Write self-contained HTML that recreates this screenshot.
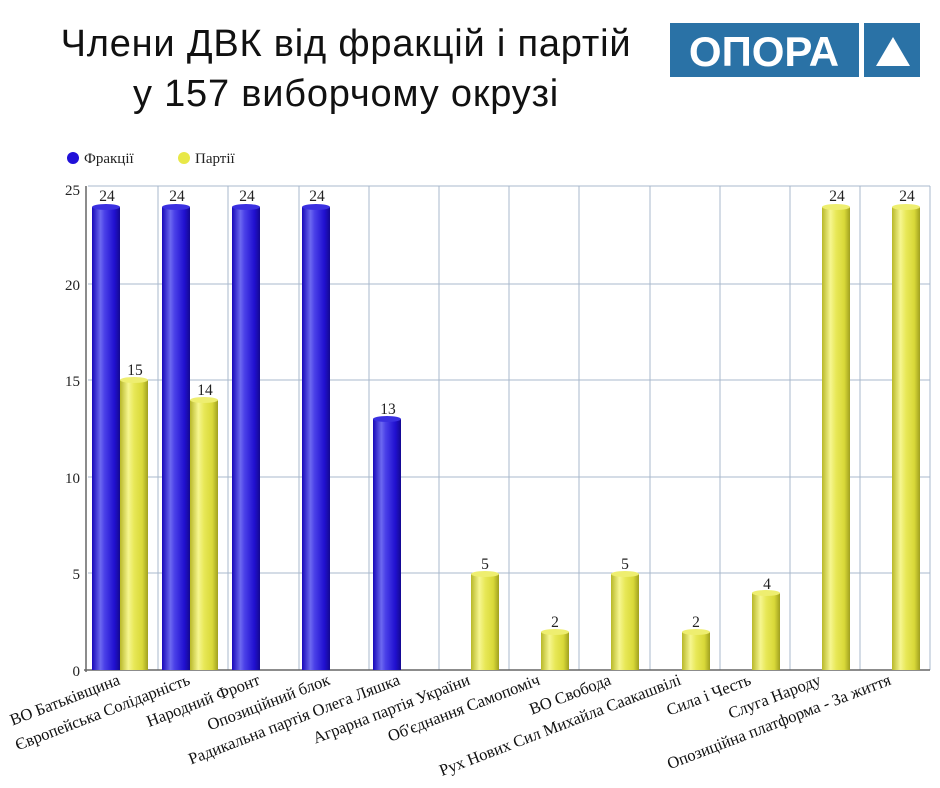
<!DOCTYPE html>
<html><head><meta charset="utf-8"><style>
body{margin:0;background:#fff;width:940px;height:788px;overflow:hidden}
svg{display:block}
</style></head><body>
<svg width="940" height="788" viewBox="0 0 940 788" xmlns="http://www.w3.org/2000/svg">
<defs>
<linearGradient id="gb" x1="0" x2="1" y1="0" y2="0">
<stop offset="0" stop-color="#1808b8"/><stop offset="0.3" stop-color="#6c68f0"/><stop offset="0.45" stop-color="#4a40e8"/><stop offset="0.8" stop-color="#2010d0"/><stop offset="1" stop-color="#140890"/>
</linearGradient>
<linearGradient id="gy" x1="0" x2="1" y1="0" y2="0">
<stop offset="0" stop-color="#b8b828"/><stop offset="0.3" stop-color="#f6f690"/><stop offset="0.5" stop-color="#e8e858"/><stop offset="0.8" stop-color="#d8d838"/><stop offset="1" stop-color="#a0a020"/>
</linearGradient>
</defs>
<text x="346" y="56" font-family="Liberation Sans, sans-serif" font-size="38" letter-spacing="0.8" text-anchor="middle" fill="#111">Члени ДВК  від фракцій і партій</text>
<text x="346" y="106" font-family="Liberation Sans, sans-serif" font-size="38" letter-spacing="0.8" text-anchor="middle" fill="#111">у 157 виборчому окрузі</text>
<rect x="670" y="23" width="189" height="54" fill="#2a72a6"/>
<text x="764" y="66" font-family="Liberation Sans, sans-serif" font-weight="bold" font-size="42" text-anchor="middle" fill="#fff">ОПОРА</text>
<rect x="864" y="23" width="56" height="54" fill="#2a72a6"/>
<polygon points="876,66 910,66 893,37" fill="#fff"/>
<circle cx="73" cy="158" r="6" fill="#2010d8"/>
<text x="84" y="163" font-family="Liberation Serif, serif" font-size="15" fill="#222">Фракції</text>
<circle cx="184" cy="158" r="6" fill="#e8e848"/>
<text x="195" y="163" font-family="Liberation Serif, serif" font-size="15" fill="#222">Партії</text>
<g stroke="#a8b8cc" stroke-width="1">
<line x1="88" y1="573" x2="930" y2="573"/><line x1="88" y1="477" x2="930" y2="477"/><line x1="88" y1="380" x2="930" y2="380"/><line x1="88" y1="284" x2="930" y2="284"/><line x1="88" y1="186" x2="930" y2="186"/>
<line x1="158" y1="186" x2="158" y2="670"/><line x1="228" y1="186" x2="228" y2="670"/><line x1="299" y1="186" x2="299" y2="670"/><line x1="369" y1="186" x2="369" y2="670"/><line x1="439" y1="186" x2="439" y2="670"/><line x1="509" y1="186" x2="509" y2="670"/><line x1="579" y1="186" x2="579" y2="670"/><line x1="650" y1="186" x2="650" y2="670"/><line x1="720" y1="186" x2="720" y2="670"/><line x1="790" y1="186" x2="790" y2="670"/><line x1="860" y1="186" x2="860" y2="670"/><line x1="930" y1="186" x2="930" y2="670"/>
</g>
<line x1="84" y1="670" x2="930" y2="670" stroke="#666" stroke-width="1.5"/>
<line x1="86" y1="186" x2="86" y2="672" stroke="#666" stroke-width="1.5"/>
<g font-family="Liberation Serif, serif" font-size="15" fill="#222" text-anchor="end">
<text x="80" y="676">0</text><text x="80" y="579">5</text><text x="80" y="483">10</text><text x="80" y="386">15</text><text x="80" y="290">20</text><text x="80" y="195">25</text>
</g>
<g>
<rect x="92" y="207" width="28" height="463" fill="url(#gb)"/><ellipse cx="106" cy="207" rx="14" ry="3" fill="#3a30e0"/>
<rect x="120" y="380" width="28" height="290" fill="url(#gy)"/><ellipse cx="134" cy="380" rx="14" ry="3" fill="#eeee70"/>
<rect x="162" y="207" width="28" height="463" fill="url(#gb)"/><ellipse cx="176" cy="207" rx="14" ry="3" fill="#3a30e0"/>
<rect x="190" y="400" width="28" height="270" fill="url(#gy)"/><ellipse cx="204" cy="400" rx="14" ry="3" fill="#eeee70"/>
<rect x="232" y="207" width="28" height="463" fill="url(#gb)"/><ellipse cx="246" cy="207" rx="14" ry="3" fill="#3a30e0"/>
<rect x="302" y="207" width="28" height="463" fill="url(#gb)"/><ellipse cx="316" cy="207" rx="14" ry="3" fill="#3a30e0"/>
<rect x="373" y="419" width="28" height="251" fill="url(#gb)"/><ellipse cx="387" cy="419" rx="14" ry="3" fill="#3a30e0"/>
<rect x="471" y="574" width="28" height="96" fill="url(#gy)"/><ellipse cx="485" cy="574" rx="14" ry="3" fill="#eeee70"/>
<rect x="541" y="632" width="28" height="38" fill="url(#gy)"/><ellipse cx="555" cy="632" rx="14" ry="3" fill="#eeee70"/>
<rect x="611" y="574" width="28" height="96" fill="url(#gy)"/><ellipse cx="625" cy="574" rx="14" ry="3" fill="#eeee70"/>
<rect x="682" y="632" width="28" height="38" fill="url(#gy)"/><ellipse cx="696" cy="632" rx="14" ry="3" fill="#eeee70"/>
<rect x="752" y="593" width="28" height="77" fill="url(#gy)"/><ellipse cx="766" cy="593" rx="14" ry="3" fill="#eeee70"/>
<rect x="822" y="207" width="28" height="463" fill="url(#gy)"/><ellipse cx="836" cy="207" rx="14" ry="3" fill="#eeee70"/>
<rect x="892" y="207" width="28" height="463" fill="url(#gy)"/><ellipse cx="906" cy="207" rx="14" ry="3" fill="#eeee70"/>
</g>
<g font-family="Liberation Serif, serif" font-size="15.5" fill="#222" text-anchor="middle">
<text x="107" y="201">24</text><text x="135" y="375">15</text><text x="177" y="201">24</text><text x="205" y="395">14</text><text x="247" y="201">24</text><text x="317" y="201">24</text><text x="388" y="414">13</text><text x="485" y="569">5</text><text x="555" y="627">2</text><text x="625" y="569">5</text><text x="696" y="627">2</text><text x="767" y="589">4</text><text x="837" y="201">24</text><text x="907" y="201">24</text>
</g>
<g font-family="Liberation Serif, serif" font-size="16.5" fill="#111" text-anchor="end">
<text transform="translate(121,684) rotate(-21)">ВО Батьківщина</text>
<text transform="translate(191,684) rotate(-21)">Європейська Солідарність</text>
<text transform="translate(261,684) rotate(-21)">Народний Фронт</text>
<text transform="translate(331,684) rotate(-21)">Опозиційний блок</text>
<text transform="translate(401,684) rotate(-21)">Радикальна партія Олега Ляшка</text>
<text transform="translate(471,684) rotate(-21)">Аграрна партія України</text>
<text transform="translate(541,684) rotate(-21)">Об'єднання Самопоміч</text>
<text transform="translate(612,684) rotate(-21)">ВО Свобода</text>
<text transform="translate(682,684) rotate(-21)">Рух Нових Сил Михайла Саакашвілі</text>
<text transform="translate(752,684) rotate(-21)">Сила і Честь</text>
<text transform="translate(822,684) rotate(-21)">Слуга Народу</text>
<text transform="translate(892,684) rotate(-21)">Опозиційна платформа - За життя</text>
</g>
</svg>
</body></html>
